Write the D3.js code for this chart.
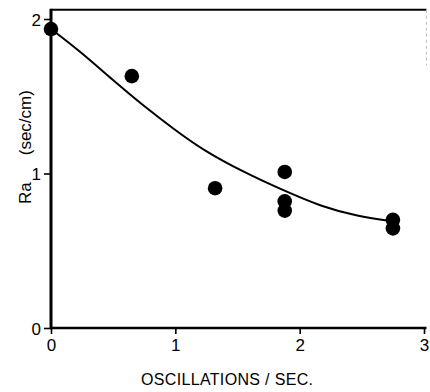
<!DOCTYPE html>
<html>
<head>
<meta charset="utf-8">
<script src="https://cdn.jsdelivr.net/npm/d3@7"></script>
<style>
  html, body { margin: 0; padding: 0; background: #fff; }
  svg { display: block; }
  text { font-family: "Liberation Sans", Arial, sans-serif; fill: #000; }
</style>
</head>
<body>
<svg id="chart" width="430" height="392"></svg>
<script>
// measured points (oscillations/sec, Ra)
const oscX = [0, 0.65, 1.32, 1.88, 1.88, 1.88, 2.75, 2.75];
const raY  = [1.935, 1.63, 0.905, 1.01, 0.82, 0.76, 0.70, 0.645];

// fitted curve
const fitX = [0, 0.22, 0.49, 0.756, 0.984, 1.225, 1.547, 1.842, 2.19, 2.46, 2.75];
const fitY = [1.935, 1.80, 1.61, 1.43, 1.29, 1.15, 1.01, 0.90, 0.78, 0.725, 0.69];

const xTicks = [0, 1, 2, 3];
const yTicks = [0, 1, 2];

const svg = d3.select('#chart');
const x = d3.scaleLinear().domain([0, 3]).range([51, 424]);
const y = d3.scaleLinear().domain([0, 2]).range([328, 19]);

// frame (top and right edges are faint in the print)
svg.append('line')
  .attr('x1', x(0)).attr('x2', x(3.02))
  .attr('y1', y(2.06)).attr('y2', y(2.06))
  .style('stroke', '#000').style('stroke-width', 2.2);
svg.append('line')
  .attr('x1', x(3.02)).attr('x2', x(3.02))
  .attr('y1', y(2.06)).attr('y2', y(1.7))
  .style('stroke', '#bbb').style('stroke-width', 1).style('stroke-dasharray', '3 3');

// axes
const xAxis = d3.axisBottom(x).tickValues(xTicks).tickSize(6).tickPadding(5).tickFormat(d3.format('d'));
const yAxis = d3.axisLeft(y).tickValues(yTicks).tickSize(7).tickPadding(3).tickFormat(d3.format('d'));

const gx = svg.append('g').attr('transform', `translate(0,${y(0)})`).call(xAxis);
const gy = svg.append('g').attr('transform', `translate(${x(0)},0)`).call(yAxis);

gx.select('.domain').attr('d', `M${x(0) - 1},0H${x(3.02)}`).style('stroke-width', 2.6);
gy.select('.domain').attr('d', `M0,${y(0) + 1}V${y(2.06) - 1}`).style('stroke-width', 3);
[gx, gy].forEach(g => {
  g.selectAll('.tick line').style('stroke-width', 1.6);
  g.selectAll('.tick text')
    .style('font-family', '"Liberation Sans", Arial, sans-serif')
    .style('font-size', '17px');
});
gy.selectAll('.tick text').attr('dy', '0.36em');

// fitted curve
const fit = fitX.map((v, i) => [v, fitY[i]]);
svg.append('path')
  .datum(fit)
  .attr('d', d3.line().x(d => x(d[0])).y(d => y(d[1])).curve(d3.curveBasis))
  .style('fill', 'none')
  .style('stroke', '#000')
  .style('stroke-width', 2);

// points
svg.append('g').selectAll('circle')
  .data(oscX.map((v, i) => [v, raY[i]]))
  .enter().append('circle')
  .attr('cx', d => x(d[0]))
  .attr('cy', d => y(d[1]))
  .attr('r', 7.3)
  .style('fill', '#000');

// axis labels
svg.append('text')
  .attr('x', 227).attr('y', 385)
  .attr('text-anchor', 'middle')
  .attr('textLength', 172)
  .style('font-size', '16px')
  .text('OSCILLATIONS / SEC.');

// "Ra" and "(sec/cm)" sit either side of the "1" tick label
const ylab = svg.append('text')
  .attr('transform', 'translate(31,204) rotate(-90)')
  .style('font-size', '17px');
ylab.append('tspan').text('Ra');
ylab.append('tspan').attr('dx', 27).text('(sec/cm)');
</script>
</body>
</html>
